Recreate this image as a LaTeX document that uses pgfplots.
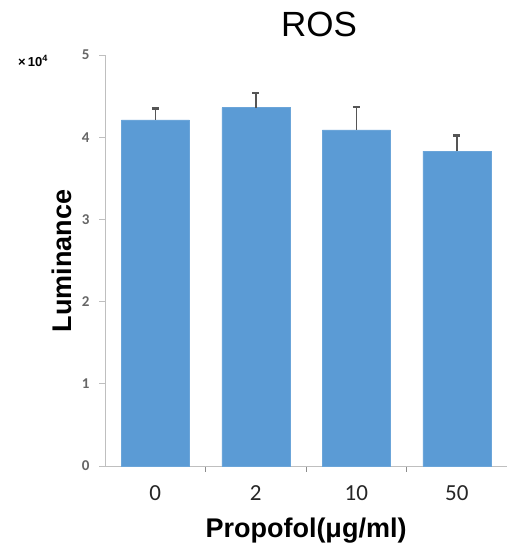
\documentclass[border=0pt]{standalone}
\usepackage{pgfplots}
\pgfplotsset{compat=1.18}
\usepackage{fontspec}
\setmainfont{Liberation Sans}
\newfontfamily\tickfont{Carlito}
\definecolor{barblue}{HTML}{5B9BD5}
\definecolor{axgray}{HTML}{BFBFBF}
\definecolor{errgray}{HTML}{555555}
\begin{document}
\begin{tikzpicture}[x=1pt,y=1pt]
\path[use as bounding box] (0,0) rectangle (507,546);
\begin{axis}[
  at={(105pt,80pt)}, anchor=south west,
  scale only axis, width=402pt, height=411pt,
  xmin=-0.5, xmax=3.5, ymin=0, ymax=5,
  axis x line*=bottom, axis y line*=left,
  axis line style={axgray, line width=0.8pt},
  /pgf/number format/assume math mode=true,
  ytick={0,1,2,3,4,5},
  yticklabel style={font=\tickfont\bfseries\fontsize{15}{15}\selectfont, text=black!60, xshift=-6pt},
  xtick={0.5,1.5,2.5}, xticklabels={},
  extra x ticks={0,1,2,3}, extra x tick labels={0,2,10,50},
  extra x tick style={major tick length=0pt, tick style={draw=none},
    xticklabel style={font=\tickfont\fontsize{23}{23}\selectfont, text=black!85, yshift=-16pt}},
  tick align=outside, major tick length=6pt,
  tick style={axgray, line width=0.8pt},
  x tick style={black!45},
  clip=false,
]
\addplot[ybar, bar width=68pt, fill=barblue, draw=barblue!90!white,
  error bars/.cd, y dir=plus, y explicit,
  error bar style={errgray, line width=1.5pt},
  error mark options={errgray, line width=2.2pt, mark size=3.5pt, rotate=90}]
  coordinates {
  (0,4.21) +- (0,0.14)
  (1,4.36) +- (0,0.18)
  (2,4.09) +- (0,0.28)
  (3,3.83) +- (0,0.19)
};
\end{axis}
\node at (319,522) {\fontsize{35}{35}\selectfont ROS};
\node at (33,485) {\fontsize{13}{13}\selectfont\bfseries ×\,10\textsuperscript{4}};
\node[rotate=90] at (62,285) {\fontsize{27}{27}\selectfont\bfseries Luminance};
\node at (306,15) {\fontsize{27}{27}\selectfont\bfseries Propofol(μg/ml)};
\end{tikzpicture}
\end{document}
